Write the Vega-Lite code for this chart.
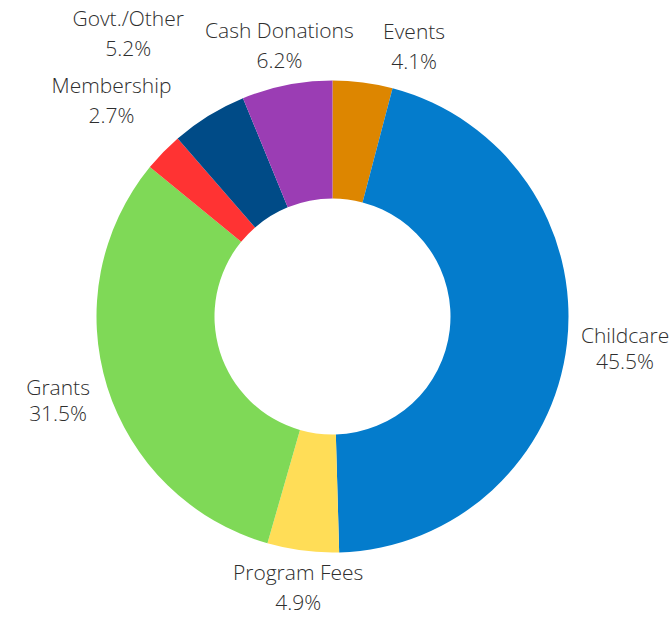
{
  "$schema": "https://vega.github.io/schema/vega-lite/v6.json",
  "width": 665,
  "height": 605,
  "autosize": "none",
  "padding": {"left": 0, "top": 14, "right": 7, "bottom": 0},
  "background": "white",
  "config": {"view": {"stroke": null}, "text": {"font": "Open Sans", "fontSize": 21, "fontWeight": 300, "fill": "#2e2e2e"}},
  "data": {
    "values": [
      {"idx": 1, "name": "Events", "share": 0.041},
      {"idx": 2, "name": "Childcare", "share": 0.455},
      {"idx": 3, "name": "Program Fees", "share": 0.049},
      {"idx": 4, "name": "Grants", "share": 0.315},
      {"idx": 5, "name": "Membership", "share": 0.027},
      {"idx": 6, "name": "Govt./Other", "share": 0.052},
      {"idx": 7, "name": "Cash Donations", "share": 0.062}
    ]
  },
  "encoding": {
    "theta": {"field": "share", "type": "quantitative", "stack": true},
    "order": {"field": "idx", "type": "quantitative"}
  },
  "layer": [
    {
      "mark": {"type": "arc", "radius": 236, "innerRadius": 118},
      "encoding": {
        "color": {
          "field": "name",
          "type": "nominal",
          "legend": null,
          "scale": {
            "domain": ["Events", "Childcare", "Program Fees", "Grants", "Membership", "Govt./Other", "Cash Donations"],
            "range": ["#dd8600", "#047ccc", "#ffdd57", "#7fd957", "#ff3333", "#004b87", "#9b3db4"]
          }
        }
      }
    },
    {
      "mark": {"type": "text", "radius": 294.5, "dy": -13},
      "encoding": {
        "text": {"condition": {"test": "datum.name === 'Childcare'", "field": "name", "type": "nominal"}, "value": ""}
      }
    },
    {
      "mark": {"type": "text", "radius": 294.5, "dy": 13},
      "encoding": {
        "text": {"condition": {"test": "datum.name === 'Childcare'", "field": "share", "type": "quantitative", "format": ".1%"}, "value": ""}
      }
    },
    {
      "mark": {"type": "text", "radius": 287.5, "dy": -13},
      "encoding": {
        "text": {"condition": {"test": "datum.name === 'Grants'", "field": "name", "type": "nominal"}, "value": ""}
      }
    },
    {
      "mark": {"type": "text", "radius": 287.5, "dy": 13},
      "encoding": {
        "text": {"condition": {"test": "datum.name === 'Grants'", "field": "share", "type": "quantitative", "format": ".1%"}, "value": ""}
      }
    },
    {
      "mark": {"type": "text", "radius": 274.5, "dy": -15},
      "encoding": {
        "text": {"condition": {"test": "datum.name === 'Program Fees' || datum.name === 'Cash Donations'", "field": "name", "type": "nominal"}, "value": ""}
      }
    },
    {
      "mark": {"type": "text", "radius": 274.5, "dy": 15},
      "encoding": {
        "text": {"condition": {"test": "datum.name === 'Program Fees' || datum.name === 'Cash Donations'", "field": "share", "type": "quantitative", "format": ".1%"}, "value": ""}
      }
    },
    {
      "mark": {"type": "text", "radius": 281, "thetaOffset": 0.166, "dy": -15},
      "encoding": {
        "text": {"condition": {"test": "datum.name === 'Events'", "field": "name", "type": "nominal"}, "value": ""}
      }
    },
    {
      "mark": {"type": "text", "radius": 281, "thetaOffset": 0.166, "dy": 15},
      "encoding": {
        "text": {"condition": {"test": "datum.name === 'Events'", "field": "share", "type": "quantitative", "format": ".1%"}, "value": ""}
      }
    },
    {
      "mark": {"type": "text", "radius": 308, "dy": -15},
      "encoding": {
        "text": {"condition": {"test": "datum.name === 'Membership'", "field": "name", "type": "nominal"}, "value": ""}
      }
    },
    {
      "mark": {"type": "text", "radius": 308, "dy": 15},
      "encoding": {
        "text": {"condition": {"test": "datum.name === 'Membership'", "field": "share", "type": "quantitative", "format": ".1%"}, "value": ""}
      }
    },
    {
      "mark": {"type": "text", "radius": 348, "thetaOffset": -0.075, "dy": -15},
      "encoding": {
        "text": {"condition": {"test": "datum.name === 'Govt./Other'", "field": "name", "type": "nominal"}, "value": ""}
      }
    },
    {
      "mark": {"type": "text", "radius": 348, "thetaOffset": -0.075, "dy": 15},
      "encoding": {
        "text": {"condition": {"test": "datum.name === 'Govt./Other'", "field": "share", "type": "quantitative", "format": ".1%"}, "value": ""}
      }
    }
  ]
}
